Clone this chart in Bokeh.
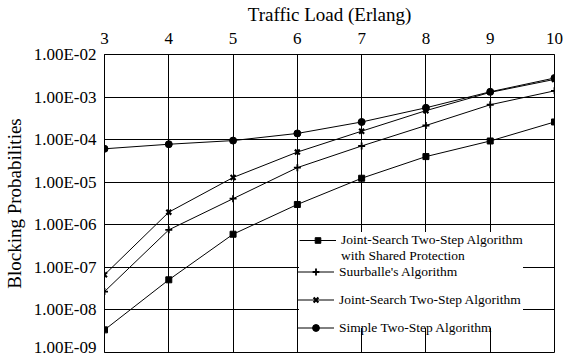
from bokeh.plotting import figure
from bokeh.models import FixedTicker, CustomJSTickFormatter, Legend, LegendItem
from bokeh.embed import file_html
from bokeh.resources import INLINE

traffic_load = [3, 4, 5, 6, 7, 8, 9, 10]
shared_protection = [3.4e-9, 5.1e-8, 6.0e-7, 3.0e-6, 1.24e-5, 4.0e-5, 9.3e-5, 2.6e-4]
suurballe = [2.7e-8, 7.6e-7, 4.1e-6, 2.2e-5, 7.1e-5, 2.15e-4, 6.6e-4, 1.4e-3]
joint_search = [6.7e-8, 1.98e-6, 1.29e-5, 5.1e-5, 1.58e-4, 4.8e-4, 1.29e-3, 2.6e-3]
simple_two_step = [6.1e-5, 7.8e-5, 9.5e-5, 1.4e-4, 2.6e-4, 5.6e-4, 1.33e-3, 2.8e-3]
y_ticks = [1e-9, 1e-8, 1e-7, 1e-6, 1e-5, 1e-4, 1e-3, 1e-2]
series_names = ["Joint-Search Two-Step Algorithm",
                "Suurballe's Algorithm",
                "Joint-Search Two-Step Algorithm",
                "Simple Two-Step Algorithm"]
first_name_second_line = "with Shared Protection"

FONT = "Liberation Serif"

p = figure(width=564, height=356, output_backend="svg", toolbar_location=None,
           x_axis_location="above", y_axis_type="log",
           x_range=(3, 10), y_range=(1e-9, 1e-2),
           min_border_left=0, min_border_right=10, min_border_top=0, min_border_bottom=4)

p.outline_line_color = "black"
p.outline_line_width = 1

p.xaxis.ticker = FixedTicker(ticks=traffic_load)
p.yaxis.ticker = FixedTicker(ticks=y_ticks)
p.yaxis.formatter = CustomJSTickFormatter(code="""
const s = tick.toExponential(2);
const parts = s.split('e');
let e = parseInt(parts[1]);
const sign = e < 0 ? '-' : '+';
e = Math.abs(e);
return parts[0] + 'E' + sign + (e < 10 ? '0' + e : '' + e);
""")

p.xaxis.axis_label = "Traffic Load (Erlang)"
p.yaxis.axis_label = "Blocking Probabilities"
for ax in (p.xaxis, p.yaxis):
    ax.axis_label_text_font = FONT
    ax.axis_label_text_font_style = "normal"
    ax.axis_label_text_font_size = "19px"
    ax.axis_label_text_color = "black"
    ax.major_label_text_font = FONT
    ax.major_label_text_font_size = "17px"
    ax.major_label_text_color = "black"
    ax.major_tick_line_color = None
    ax.minor_tick_line_color = None
    ax.major_tick_out = 0
    ax.major_tick_in = 0
    ax.axis_line_color = "black"
p.xaxis.major_label_standoff = 11
p.xaxis.axis_label_standoff = 5
p.yaxis.major_label_standoff = 8
p.yaxis.axis_label_standoff = 6

p.xgrid.grid_line_color = "black"
p.ygrid.grid_line_color = "black"
p.xgrid.grid_line_alpha = 1
p.ygrid.grid_line_alpha = 1
p.ygrid.minor_grid_line_color = None

renderers = []
series = [(shared_protection, "square", 6, 1), (suurballe, "cross", 7, 1.8),
          (joint_search, "x", 7, 2.2), (simple_two_step, "circle", 7, 1)]
for vals, marker, size, lw in series:
    l = p.line(traffic_load, vals, line_color="black", line_width=1)
    s = p.scatter(traffic_load, vals, marker=marker, size=size, line_color="black",
                  fill_color="black", line_width=lw)
    renderers.append([l, s])


def style(lg):
    lg.border_line_color = None
    lg.label_text_font = FONT
    lg.label_text_font_style = "normal"
    lg.label_text_font_size = "13.5px"
    lg.label_text_color = "black"
    lg.glyph_width = 37
    lg.label_standoff = 5


# white block holding the first (two-line) entry
items_a = [LegendItem(label=series_names[0], renderers=renderers[0]),
           LegendItem(label=first_name_second_line, renderers=[])]
items_a += [LegendItem(label=" ", renderers=[]) for _ in range(4)]
legend_a = Legend(items=items_a, location=(195, 24))
style(legend_a)
legend_a.label_text_line_height = 1.0
legend_a.background_fill_color = "white"
legend_a.background_fill_alpha = 1
legend_a.glyph_height = 14
legend_a.label_height = 16
legend_a.spacing = 0
legend_a.padding = 8

items_b = [LegendItem(label=series_names[i], renderers=renderers[i]) for i in (1, 2, 3)]
legend_b = Legend(items=items_b, location=(193, 16))
style(legend_b)
legend_b.background_fill_alpha = 0
legend_b.glyph_height = 17
legend_b.label_height = 17
legend_b.spacing = 11
legend_b.padding = 10

p.add_layout(legend_a)
p.add_layout(legend_b)

open("out.html", "w").write(file_html(p, INLINE))
